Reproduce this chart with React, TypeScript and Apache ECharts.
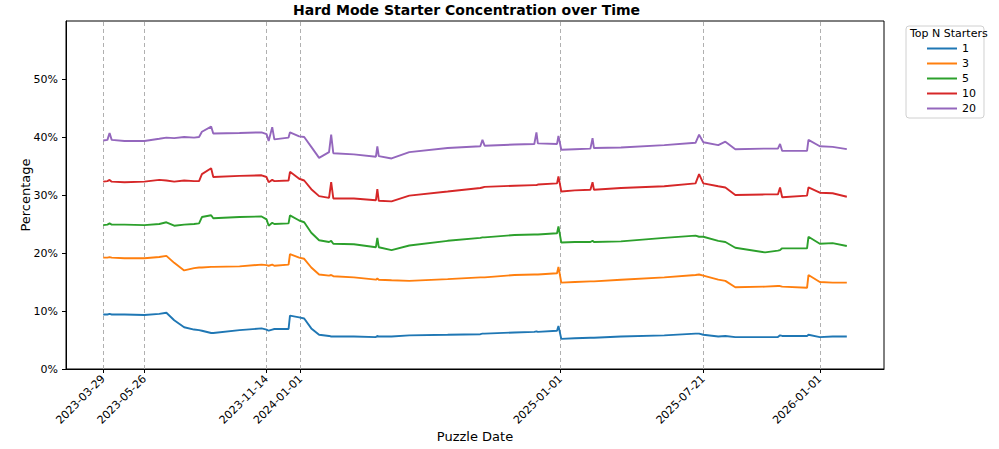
import React, { useEffect, useRef } from "react";
import * as echarts from "echarts";

const dates = [
  "2023-03-29", "2023-04-04", "2023-04-07", "2023-04-10", "2023-04-28", "2023-05-26", "2023-06-16", "2023-06-26",
  "2023-07-07", "2023-07-21", "2023-08-04", "2023-08-11", "2023-08-15", "2023-08-28", "2023-08-31", "2023-10-07",
  "2023-11-07", "2023-11-14", "2023-11-17", "2023-11-22", "2023-11-25", "2023-12-15", "2023-12-17", "2023-12-30",
  "2024-01-06", "2024-01-16", "2024-01-27", "2024-02-10", "2024-02-13", "2024-02-16", "2024-03-16", "2024-04-16",
  "2024-04-18", "2024-04-20", "2024-05-08", "2024-06-02", "2024-07-26", "2024-09-10", "2024-09-13", "2024-09-16",
  "2024-10-28", "2024-11-25", "2024-11-28", "2024-11-30", "2024-12-27", "2024-12-29", "2025-01-02", "2025-01-21",
  "2025-02-12", "2025-02-15", "2025-02-17", "2025-03-27", "2025-05-27", "2025-07-10", "2025-07-15", "2025-07-21",
  "2025-08-11", "2025-08-21", "2025-09-04", "2025-10-16", "2025-11-03", "2025-11-06", "2025-11-09", "2025-12-14",
  "2025-12-16", "2026-01-01", "2026-01-19", "2026-02-08",
];

const top1 = [
  9.4, 9.4, 9.5, 9.4, 9.4, 9.3, 9.5, 9.7,
  8.4, 7.2, 6.8, 6.7, 6.6, 6.2, 6.2, 6.7,
  7.0, 6.8, 6.6, 6.8, 6.9, 6.9, 9.2, 8.9,
  8.7, 7.0, 5.9, 5.7, 5.6, 5.6, 5.6, 5.5,
  5.7, 5.6, 5.6, 5.8, 5.9, 6.0, 6.1, 6.1,
  6.3, 6.4, 6.5, 6.4, 6.6, 7.4, 5.2, 5.3,
  5.4, 5.4, 5.4, 5.6, 5.8, 6.1, 6.1, 5.9,
  5.6, 5.7, 5.5, 5.5, 5.5, 5.8, 5.7, 5.7,
  5.9, 5.5, 5.6, 5.6,
];
const top3 = [
  19.2, 19.2, 19.3, 19.2, 19.1, 19.1, 19.3, 19.5,
  18.3, 17.0, 17.4, 17.5, 17.5, 17.6, 17.6, 17.7,
  18.0, 17.9, 17.8, 18.0, 17.8, 18.0, 19.8, 19.2,
  19.0, 17.5, 16.3, 16.1, 16.2, 16.0, 15.8, 15.4,
  15.6, 15.4, 15.3, 15.2, 15.5, 15.8, 15.8, 15.8,
  16.2, 16.3, 16.3, 16.3, 16.5, 17.6, 14.9, 15.0,
  15.1, 15.1, 15.1, 15.4, 15.8, 16.2, 16.3, 16.1,
  15.4, 15.2, 14.1, 14.2, 14.3, 14.3, 14.2, 14.0,
  16.2, 15.0, 14.9, 14.9,
];
const top5 = [
  24.8, 24.9, 25.1, 24.9, 24.9, 24.8, 25.0, 25.3,
  24.7, 24.9, 25.0, 25.1, 26.2, 26.5, 26.0, 26.2,
  26.3, 25.8, 24.7, 25.2, 25.0, 25.1, 26.5, 25.6,
  25.3, 23.5, 22.2, 21.9, 22.1, 21.6, 21.5, 21.0,
  22.6, 21.0, 20.5, 21.3, 22.1, 22.6, 22.7, 22.7,
  23.1, 23.2, 23.2, 23.2, 23.4, 24.6, 21.8, 21.9,
  21.9, 22.1, 21.9, 22.0, 22.6, 23.0, 22.8, 22.8,
  22.1, 21.9, 20.9, 20.1, 20.4, 20.5, 20.8, 20.8,
  22.8, 21.6, 21.7, 21.2,
];
const top10 = [
  32.3, 32.4, 32.6, 32.3, 32.2, 32.3, 32.6, 32.5,
  32.3, 32.5, 32.4, 32.4, 33.6, 34.6, 33.1, 33.3,
  33.4, 33.1, 32.2, 32.6, 32.4, 32.5, 34.0, 32.8,
  32.5, 31.0, 29.8, 29.5, 32.2, 29.4, 29.4, 29.1,
  31.0, 29.0, 28.9, 29.9, 30.6, 31.2, 31.3, 31.4,
  31.6, 31.7, 31.7, 31.8, 32.0, 33.2, 30.6, 30.8,
  30.9, 32.2, 30.9, 31.2, 31.5, 32.0, 33.6, 32.0,
  31.5, 31.3, 30.0, 30.1, 30.1, 31.3, 29.6, 29.9,
  31.3, 30.4, 30.3, 29.7,
];
const top20 = [
  39.4, 39.5, 40.7, 39.5, 39.3, 39.3, 39.7, 39.9,
  39.8, 40.0, 39.9, 40.0, 40.9, 41.8, 40.6, 40.7,
  40.8, 40.5, 39.3, 41.7, 39.6, 39.9, 40.8, 40.1,
  40.0, 38.3, 36.4, 37.4, 40.4, 37.2, 37.0, 36.6,
  38.4, 36.7, 36.3, 37.4, 38.1, 38.4, 39.5, 38.5,
  38.7, 38.8, 40.8, 38.9, 38.8, 40.2, 37.8, 37.9,
  38.0, 39.8, 38.1, 38.2, 38.6, 39.0, 40.4, 39.1,
  38.6, 39.2, 37.9, 38.0, 38.0, 38.8, 37.6, 37.6,
  39.5, 38.4, 38.3, 37.9,
];

const seriesNames = ["1", "3", "5", "10", "20"];
const seriesValues = [top1, top3, top5, top10, top20];
const colors = ["#1f77b4", "#ff7f0e", "#2ca02c", "#d62728", "#9467bd"];

const markerDates = ["2023-03-29", "2023-05-26", "2023-11-14", "2024-01-01", "2025-01-01", "2025-07-21", "2026-01-01"];
const yTicks = [0, 10, 20, 30, 40, 50];

const ts = (d: string) => {
  const [y, m, dd] = d.split("-").map(Number);
  return Date.UTC(y, m - 1, dd);
};
const pad = (n: number) => (n < 10 ? "0" + n : "" + n);
const fmt = (v: number) => {
  const d = new Date(v);
  return `${d.getUTCFullYear()}-${pad(d.getUTCMonth() + 1)}-${pad(d.getUTCDate())}`;
};

const FONT = "DejaVu Sans";

export default function App() {
  const ref = useRef<HTMLDivElement>(null);
  useEffect(() => {
    if (!ref.current) return;
    const chart = echarts.init(ref.current, null, { renderer: "svg" });
    const start = ts(dates[0]);
    const end = ts(dates[dates.length - 1]);
    const margin = (end - start) * 0.05;
    const option: any = {
      animation: false,
      textStyle: { fontFamily: FONT },
      graphic: [
        {
          type: "text",
          left: 475 - 182,
          top: 3,
          style: {
            text: "Hard Mode Starter Concentration over Time",
            fontFamily: FONT,
            fontWeight: "bold",
            fontSize: 14,
            fill: "#000",
          },
        },
        {
          type: "text",
          left: 910,
          top: 28,
          z: 10,
          style: { text: "Top N Starters", fontFamily: FONT, fontSize: 11, fill: "#000" },
        },
      ],
      legend: {
        orient: "vertical",
        left: 906,
        top: 26,
        width: 80,
        padding: [17, 8, 4, 21],
        backgroundColor: "#fff",
        borderColor: "#d0d0d0",
        borderWidth: 1,
        borderRadius: 3,
        itemWidth: 30,
        itemHeight: 2,
        itemGap: 4,
        icon: "rect",
        textStyle: { fontFamily: FONT, fontSize: 11, color: "#000" },
        data: seriesNames,
      },
      grid: {
        left: 66,
        right: 115,
        top: 21,
        bottom: 80,
        show: true,
        borderColor: "#000",
        borderWidth: 1,
        containLabel: false,
        outerBoundsMode: "none",
      },
      xAxis: {
        type: "value",
        min: start - margin,
        max: end + margin,
        name: "Puzzle Date",
        nameLocation: "middle",
        nameGap: 61,
        nameMoveOverlap: false,
        nameTextStyle: { fontFamily: FONT, fontSize: 13, color: "#000" },
        axisLine: { show: true, lineStyle: { color: "#000", width: 1 } },
        axisTick: { show: true, customValues: markerDates.map(ts), length: 4, lineStyle: { color: "#000" } },
        axisLabel: {
          customValues: markerDates.map(ts),
          formatter: (v: number) => fmt(v),
          rotate: 45,
          fontFamily: FONT,
          fontSize: 11,
          color: "#000",
          margin: 8,
        },
        splitLine: { show: false },
      },
      yAxis: {
        type: "value",
        min: 0,
        max: 60,
        name: "Percentage",
        nameLocation: "middle",
        nameGap: 34,
        nameMoveOverlap: false,
        nameTextStyle: { fontFamily: FONT, fontSize: 13, color: "#000" },
        axisLine: { show: true, lineStyle: { color: "#000", width: 1 } },
        axisTick: { show: true, customValues: yTicks, length: 4, lineStyle: { color: "#000" } },
        axisLabel: {
          customValues: yTicks,
          formatter: (v: number) => `${v}%`,
          fontFamily: FONT,
          fontSize: 11,
          color: "#000",
          margin: 8,
        },
        splitLine: { show: false },
      },
      series: seriesNames.map((name, si) => ({
        name,
        type: "line",
        showSymbol: false,
        symbol: "none",
        color: colors[si],
        lineStyle: { width: 1.9, color: colors[si] },
        data: dates.map((d, i) => [ts(d), seriesValues[si][i]]),
        z: 3,
        markLine:
          si === 0
            ? {
                silent: true,
                symbol: "none",
                label: { show: false },
                lineStyle: { color: "#b0b0b0", type: [4, 3], width: 1 },
                data: markerDates.map((d) => ({ xAxis: ts(d) })),
                z: 1,
              }
            : undefined,
      })),
    };
    chart.setOption(option);
    return () => chart.dispose();
  }, []);
  return <div ref={ref} style={{ width: 999, height: 449, position: "absolute", left: 0, top: 0 }} />;
}
